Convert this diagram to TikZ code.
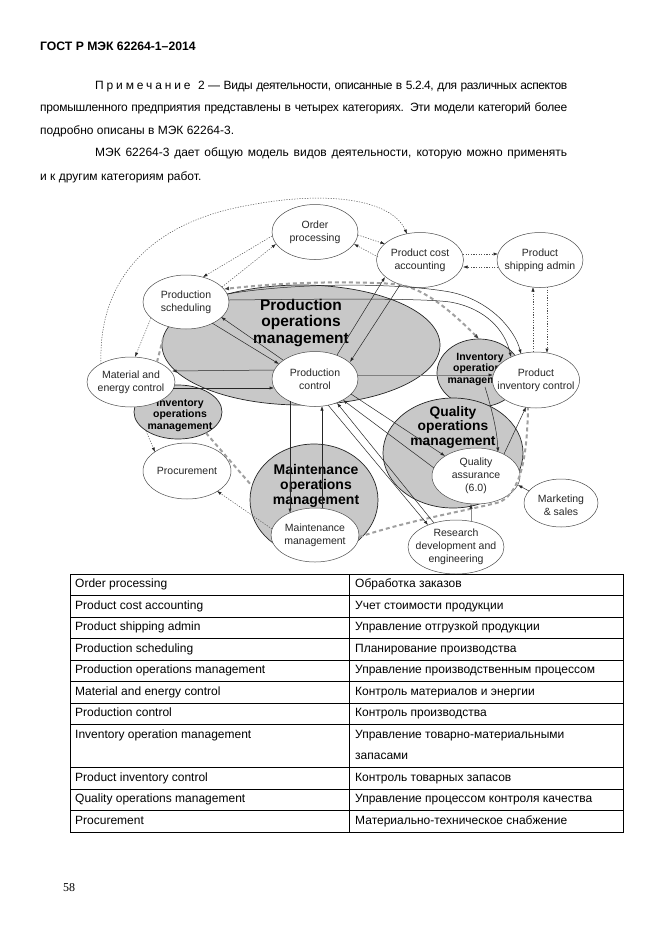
\documentclass[tikz,border=0pt]{standalone}
\usepackage{fontspec}
\setmainfont{Liberation Sans}
\newfontfamily\pnserif{Liberation Serif}
\newfontfamily\tightsans[LetterSpace=-2.2]{Liberation Sans}
\newfontfamily\tightersans[LetterSpace=-3.5]{Liberation Sans}
\newfontfamily\widesans[LetterSpace=24]{Liberation Sans}
\usetikzlibrary{shapes.geometric,arrows.meta,calc}
\definecolor{gfill}{RGB}{200,200,200}
\definecolor{dotc}{RGB}{80,80,80}
\definecolor{dashc}{RGB}{160,160,160}
\tikzset{
  wbox/.style={ellipse, draw=black!70, line width=0.5pt, fill=white, inner sep=0pt},
  gbox/.style={ellipse, draw=black!85, line width=0.7pt, fill=gfill, inner sep=0pt},
  wtxt/.style={align=center, inner sep=0pt, font=\fontsize{10.5}{13}\selectfont, text=black!85},
  gtxt/.style={align=center, inner sep=0pt},
  dotline/.style={draw=dotc, line width=0.5pt, dash pattern=on 1.2pt off 1.4pt},
  sol/.style={draw=black!85, line width=0.5pt},
  thdash/.style={draw=dashc, line width=2pt, dash pattern=on 4pt off 3pt},
  arr/.style={-{Latex[length=4.5pt,width=3.2pt,color=black!85]}},
  barr/.style={{Latex[length=5pt,width=4pt,color=black!75]}-{Latex[length=5pt,width=4pt,color=black!75]}},
  bodytxt/.style={anchor=base west, inner sep=0pt, font=\fontsize{12}{14}\selectfont},
  tabtxt/.style={anchor=base west, inner sep=0pt, font=\fontsize{12}{21.5}\selectfont, align=left},
  tabline/.style={draw=black, line width=1pt}
}
\begin{document}
\begin{tikzpicture}[x=1pt,y=-1pt]
\useasboundingbox (0,0) rectangle (662,935);
\fill[white] (0,0) rectangle (662,935);

% ---------- header and text ----------
\node[anchor=base west, inner sep=0pt, font=\bfseries\fontsize{12.2}{15}\selectfont] (hdr) at (40,50) {ГОСТ Р МЭК 62264-1–2014};
\node[bodytxt] (l1) at (95,89) {\makebox[472pt][s]{\tightersans{\widesans Примечание 2} — Виды деятельности, описанные в 5.2.4, для различных аспектов}};
\node[bodytxt] (l2) at (40,111) {\makebox[527pt][s]{\tightsans промышленного предприятия представлены в четырех категориях. Эти модели категорий более}};
\node[bodytxt] (l3) at (40,134) {подробно описаны в МЭК 62264-3.};
\node[bodytxt] (l4) at (95,156) {\makebox[472pt][s]{МЭК 62264-3 дает общую модель видов деятельности, которую можно применять}};
\node[bodytxt] (l5) at (40,180) {и к другим категориям работ.};

% ---------- grey category ellipses ----------
\node[gbox, minimum width=278pt, minimum height=120pt] (pom) at (301,345) {};
\node[gbox, minimum width=88pt, minimum height=54pt] (ioml) at (178,412) {};
\node[gbox, minimum width=84pt, minimum height=68pt] (iomr) at (479,373) {};
\node[gbox, minimum width=140pt, minimum height=110pt] (qom) at (453,453) {};
\node[gbox, minimum width=128pt, minimum height=112pt] (mom) at (314,500) {};

\node[gtxt, font=\bfseries\fontsize{15.5}{16.3}\selectfont] (pom-t) at (301,323) {Production\\operations\\management};
\node[gtxt, font=\bfseries\fontsize{10.5}{11.5}\selectfont] (ioml-t) at (180,415) {Inventory\\operations\\management};
\node[gtxt, font=\bfseries\fontsize{10.5}{11.5}\selectfont] (iomr-t) at (480,369) {Inventory\\operations\\management};
\node[gtxt, font=\bfseries\fontsize{13.8}{14.5}\selectfont] (qom-t) at (453,427) {Quality\\operations\\management};
\node[gtxt, font=\bfseries\fontsize{14}{15}\selectfont] (mom-t) at (316,486) {Maintenance\\operations\\management};

% ---------- white activity ellipses ----------
\node[wbox, minimum width=86pt, minimum height=55pt] (op) at (315,232) {};
\node[wbox, minimum width=87pt, minimum height=55pt] (pca) at (420,260) {};
\node[wbox, minimum width=86pt, minimum height=55pt] (psa) at (540,260) {};
\node[wbox, minimum width=86pt, minimum height=54pt] (ps) at (186,302) {};
\node[wbox, minimum width=86pt, minimum height=55pt] (pc) at (315,379) {};
\node[wbox, minimum width=88pt, minimum height=50pt] (mec) at (131,382) {};
\node[wbox, minimum width=87pt, minimum height=56pt] (pic) at (536,380) {};
\node[wbox, minimum width=88pt, minimum height=56pt] (qa) at (476,476) {};
\node[wbox, minimum width=74pt, minimum height=48pt] (mkt) at (561,503) {};
\node[wbox, minimum width=96pt, minimum height=54pt] (red) at (456,547) {};
\node[wbox, minimum width=88pt, minimum height=56pt] (proc) at (187,471) {};
\node[wbox, minimum width=88pt, minimum height=54pt] (mm) at (315,535) {};

\node[wtxt] (op-t) at (op) {Order\\processing};
\node[wtxt] (pca-t) at (pca) {Product cost\\accounting};
\node[wtxt] (psa-t) at (psa) {Product\\shipping admin};
\node[wtxt] (ps-t) at (ps) {Production\\scheduling};
\node[wtxt] (pc-t) at (pc) {Production\\control};
\node[wtxt] (mec-t) at (mec) {Material and\\energy control};
\node[wtxt] (pic-t) at (pic) {Product\\inventory control};
\node[wtxt] (qa-t) at (qa) {Quality\\assurance\\(6.0)};
\node[wtxt] (mkt-t) at (561,505) {Marketing\\\& sales};
\node[wtxt] (red-t) at (red) {Research\\development and\\engineering};
\node[wtxt] (proc-t) at (proc) {Procurement};
\node[wtxt] (mm-t) at (mm) {Maintenance\\management};

% ---------- thick dashed grey flows ----------
\draw[thdash, barr] ($(iomr)+(0,-34)$) .. controls (455,315) and (425,287) .. (395,284) .. controls (330,280) and (270,284) .. ($(ps)+(38,-13)$);
\draw[thdash] ($(mec)+(26,-20)$) -- ($(pom)+(-137,-10)$);
\draw[thdash] ($(ioml)+(28,21)$) -- ($(mom)+(-62,-14)$);
\draw[thdash] ($(mm)+(44,2)$) .. controls (410,520) and (470,510) .. (500,502) .. controls (520,492) and (527,460) .. ($(pic)+(-8,28)$);

% ---------- dotted flows ----------
\draw[dotline, arr] ($(mec)+(-30,-18)$) .. controls (98,280) and (150,222) .. (250,205) .. controls (330,190) and (392,200) .. ($(pca)+(-13,-26)$);
\draw[dotline, arr] ($(op)+(-43,4)$) -- ($(ps)+(17,-25)$);
\draw[dotline, arr] ($(ps)+(36,-15)$) -- ($(op)+(-39,12)$);
\draw[dotline, arr] ($(op)+(43,3)$) -- ($(pca)+(-35,-16)$);
\draw[dotline, arr] ($(pca)+(-42,-3)$) -- ($(op)+(39,12)$);
\draw[dotline, arr] ($(pca)+(43,-6)$) -- ($(psa)+(-42,-6)$);
\draw[dotline, arr] ($(psa)+(-42,7)$) -- ($(pca)+(43,7)$);
\draw[dotline, arr] ($(pic)+(-3,-28)$) -- ($(psa)+(-7,27)$);
\draw[dotline, arr] ($(psa)+(7,27)$) -- ($(pic)+(11,-27)$);
\draw[dotline, arr] ($(ps)+(-35,16)$) -- ($(mec)+(4,-25)$);
\draw[dotline, arr] ($(ioml)+(-32,19)$) -- ($(proc)+(-32,-19)$);
\draw[dotline, arr] ($(mm)+(-43,-6)$) -- ($(proc)+(30,20)$);

% ---------- solid flows ----------
\draw[sol, arr] ($(ps)+(26,21)$) -- ($(pc)+(-36,-15)$);
\draw[sol, arr] ($(pc)+(-32,-19)$) -- ($(ps)+(35,15)$);
\draw[sol, arr] ($(pc)+(-41,-9)$) -- ($(mec)+(41,-11)$);
\draw[sol, arr] ($(mec)+(42,6)$) -- ($(pc)+(-41,9)$);
\draw[sol, arr] ($(pc)+(22,-24)$) -- ($(pca)+(-35,17)$);
\draw[sol, arr] ($(pca)+(-20,25)$) -- ($(pc)+(35,-17)$);
\draw[sol, draw=black!50, arr] ($(pc)+(43,-4)$) -- ($(pic)+(-43,-5)$);
\draw[sol, arr] ($(pc)+(-25,22)$) -- ($(mm)+(-25,-22)$);
\draw[sol, arr] ($(mm)+(7,-27)$) -- ($(pc)+(7,27)$);
\draw[sol, arr] ($(pc)+(36,15)$) -- ($(qa)+(-31,-20)$);
\draw[sol, arr] ($(qa)+(-42,-8)$) -- ($(pc)+(28,21)$);
\draw[sol, arr] ($(pc)+(13,26)$) -- ($(red)+(-28,-22)$);
\draw[sol, arr] ($(red)+(-22,-24)$) -- ($(pc)+(22,24)$);
\draw[sol, arr] ($(ps)+(41,-8)$) .. controls (300,282) and (400,283) .. (450,292) .. controls (490,300) and (515,330) .. ($(pic)+(-15,-26)$);
\draw[sol, arr] ($(ps)+(43,-2)$) .. controls (330,299) and (420,298) .. (450,302) .. controls (485,308) and (505,330) .. ($(pic)+(-25,-23)$);
\draw[sol, arr] ($(iomr)+(6,14)$) .. controls (492,410) and (497,430) .. ($(qa)+(22,-24)$);
\draw[sol, arr] ($(qa)+(28,-22)$) -- ($(pic)+(-10,27)$);
\draw[sol, arr] ($(mkt)+(-32,-12)$) -- ($(qa)+(42,9)$);
\draw[sol, draw=black!45, arr] ($(red)+(15,-26)$) -- ($(qa)+(-5,28)$);

% ---------- table ----------
\draw[tabline] (70,574) rectangle (623,832);
\draw[tabline] (349,574) -- (349,832);
\foreach \yy in {595.5,617,638.5,660,681.5,703,724.5,767.5,789,810.5}
  \draw[tabline] (70,\yy) -- (623,\yy);

\node[tabtxt] (t1a) at (75,587.5) {Order processing};
\node[tabtxt] (t1b) at (355,587.5) {Обработка заказов};
\node[tabtxt] (t2a) at (75,609) {Product cost accounting};
\node[tabtxt] (t2b) at (355,609) {Учет стоимости продукции};
\node[tabtxt] (t3a) at (75,630.5) {Product shipping admin};
\node[tabtxt] (t3b) at (355,630.5) {Управление отгрузкой продукции};
\node[tabtxt] (t4a) at (75,652) {Production scheduling};
\node[tabtxt] (t4b) at (355,652) {Планирование производства};
\node[tabtxt] (t5a) at (75,673.5) {Production operations management};
\node[tabtxt] (t5b) at (355,673.5) {Управление производственным процессом};
\node[tabtxt] (t6a) at (75,695) {Material and energy control};
\node[tabtxt] (t6b) at (355,695) {Контроль материалов и энергии};
\node[tabtxt] (t7a) at (75,716.5) {Production control};
\node[tabtxt] (t7b) at (355,716.5) {Контроль производства};
\node[tabtxt] (t8a) at (75,738) {Inventory operation management};
\node[tabtxt] (t8b) at (355,738) {Управление товарно-материальными};
\node[tabtxt] (t8c) at (355,759.5) {запасами};
\node[tabtxt] (t9a) at (75,781) {Product inventory control};
\node[tabtxt] (t9b) at (355,781) {Контроль товарных запасов};
\node[tabtxt] (t10a) at (75,802.5) {Quality operations management};
\node[tabtxt] (t10b) at (355,802.5) {Управление процессом контроля качества};
\node[tabtxt] (t11a) at (75,824) {Procurement};
\node[tabtxt] (t11b) at (355,824) {Материально-техническое снабжение};

\node[anchor=base west, inner sep=0pt, font=\pnserif\fontsize{12}{14}\selectfont] (pgno) at (63,891) {58};
\end{tikzpicture}
\end{document}
